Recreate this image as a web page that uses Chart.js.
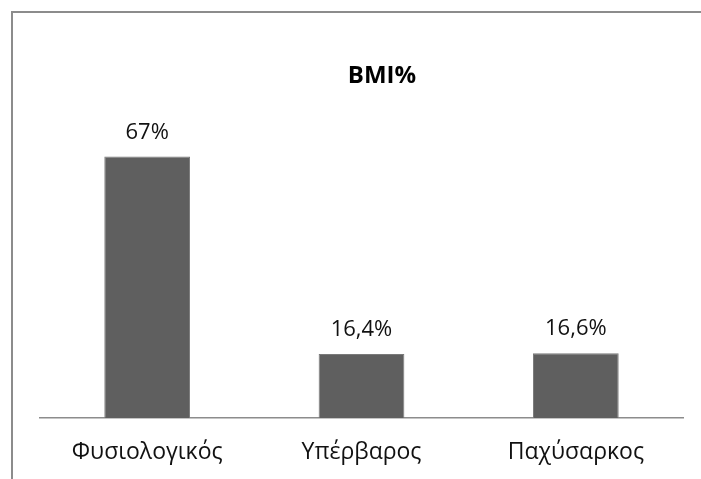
<!DOCTYPE html>
<html lang="el">
<head>
    <meta charset="UTF-8">
    <title>BMI%</title>
    <script src="https://cdn.jsdelivr.net/npm/chart.js"></script>
    <style>
        html, body { margin: 0; padding: 0; background: #fff; overflow: hidden; width: 701px; height: 479px; }
        #frame {
            position: absolute; left: 11px; top: 11px;
            width: 738px; height: 480px;
            border: 2px solid #8c8c8c;
            background: #fff;
        }
        #chart { display: block; }
    </style>
</head>
<body>
    <div id="frame">
        <canvas id="chart" width="738" height="480"></canvas>
    </div>

    <script>
        // Δεδομένα
        const categories = ['Φυσιολογικός', 'Υπέρβαρος', 'Παχύσαρκος'];
        const values = [67, 16.4, 16.6];
        const valueLabels = ['67%', '16,4%', '16,6%'];
        const chartTitle = 'BMI%';

        const FONT = "'Open Sans', 'DejaVu Sans', sans-serif";

        // Ετικέτες τιμών πάνω από τις μπάρες
        const barLabels = {
            id: 'barLabels',
            afterDatasetsDraw(chart) {
                const ctx = chart.ctx;
                const meta = chart.getDatasetMeta(0);
                ctx.save();
                ctx.font = '22px ' + FONT;
                ctx.fillStyle = '#111';
                ctx.textAlign = 'center';
                ctx.textBaseline = 'alphabetic';
                meta.data.forEach((bar, i) => {
                    ctx.fillText(valueLabels[i], bar.x, bar.y - 18);
                });
                ctx.restore();
            }
        };

        new Chart(document.getElementById('chart'), {
            type: 'bar',
            data: {
                labels: categories,
                datasets: [{
                    data: values,
                    backgroundColor: '#5f5f5f',
                    borderColor: '#7a7a7a',
                    borderWidth: 1,
                    barPercentage: 0.4,
                    categoryPercentage: 1.0
                }]
            },
            options: {
                responsive: false,
                animation: false,
                layout: { padding: 0 },
                plugins: {
                    legend: { display: false },
                    tooltip: { enabled: false },
                    title: {
                        display: true,
                        text: chartTitle,
                        color: '#000',
                        font: { family: FONT, size: 24, weight: 'bold' },
                        padding: { top: 49, bottom: 15 }
                    }
                },
                scales: {
                    x: {
                        grid: { display: false, drawTicks: false },
                        border: { display: true, color: '#8c8c8c', width: 1.5 },
                        ticks: {
                            color: '#111',
                            padding: 21,
                            font: { family: FONT, size: 23 }
                        },
                        afterFit: (s) => { s.height = 75; }
                    },
                    y: {
                        min: 0,
                        max: 80,
                        grid: { display: false },
                        border: { display: false },
                        ticks: { display: false },
                        afterFit: (s) => { s.width = 27; }
                    },
                    y2: {
                        position: 'right',
                        min: 0,
                        max: 1,
                        grid: { display: false },
                        border: { display: false },
                        ticks: { display: false },
                        afterFit: (s) => { s.width = 68; }
                    }
                }
            },
            plugins: [barLabels]
        });
    </script>
</body>
</html>
